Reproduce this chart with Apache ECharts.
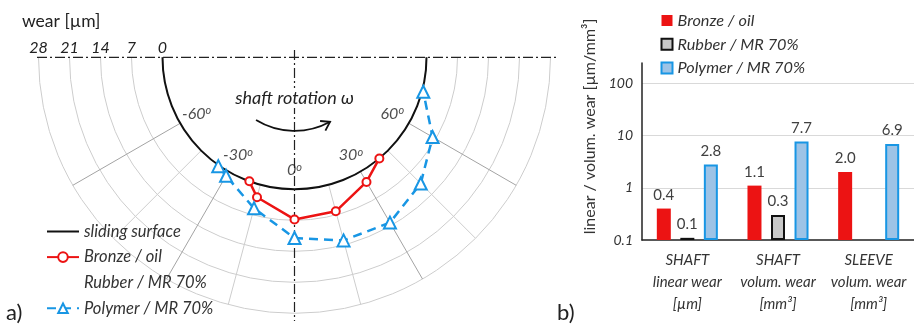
<!DOCTYPE html>
<html>
<head>
<meta charset="utf-8">
<script src="https://cdn.jsdelivr.net/npm/echarts@6/dist/echarts.min.js"></script>
<style>
  html, body { margin: 0; padding: 0; background: #fff; }
  #chart { width: 914px; height: 327px; }
</style>
</head>
<body>
<div id="chart"></div>
<script>
// a) wear profile round the shaft: angle in deg from bottom, wear in µm
const bronzeAngle  = [-20, -15, 0, 15, 30, 40];
const bronzeWear   = [0, 2.9, 6.8, 6.2, 2.7, 0];
const polymerAngle = [-35, -30, -15, 0, 15, 30, 45, 60, 75];
const polymerWear  = [0.2, 1.1, 5.5, 11, 13, 13.3, 10.5, 6.2, 0.3];
const angleTicks   = [-60, -30, 0, 30, 60];

// b) linear / volumetric wear
const categories  = ['SHAFT\nlinear wear\n[µm]', 'SHAFT\nvolum. wear\n[mm³]', 'SLEEVE\nvolum. wear\n[mm³]'];
const bronzeBars  = [0.4, 1.1, 2.0];
const rubberBars  = [0.11, 0.3, null];
const polymerBars = [2.8, 7.7, 6.9];

const names = ['sliding surface', 'Bronze / oil', 'Rubber / MR 70%', 'Polymer / MR 70%'];

const FONT = 'Lato, "Open Sans", sans-serif';
const RED = '#ec1313';
const BLUE = '#1896e4';
const CX = 294.5, CY = 57.3, R0 = 132, R1 = 256;

const D = '#a3a3a3', L = '#cdcdcd', T = 'transparent';
// one colour per radial line, -90 .. 90 every 15 deg
const radialColors = [T, T, D, L, D, L, T, L, D, L, D, T, T];

const chart = echarts.init(document.getElementById('chart'));

// arrow head for the rotation arc
const arrowR = 73.6;
const tipA = (90 - 28.9) * Math.PI / 180;
const tip = [CX + arrowR * Math.cos(tipA), CY + arrowR * Math.sin(tipA)];
const back = Math.atan2(Math.cos(tipA), -Math.sin(tipA));
const barb = a => [tip[0] + 10 * Math.cos(back + a), tip[1] + 10 * Math.sin(back + a)];

const dashDot = { stroke: '#222', lineWidth: 1.2, lineDash: [10, 3, 2, 3] };
const barLabel = { show: true, position: 'top', distance: 6, fontSize: 15, color: '#404040', formatter: p => p.value.toFixed(1) };

chart.setOption({
  animation: false,
  textStyle: { fontFamily: FONT },
  polar: [
    { center: [CX, CY], radius: [R0, R1] },
    { center: [CX, CY], radius: R0 }
  ],
  angleAxis: [
    {
      polarIndex: 0, type: 'value', min: -90, max: 90, interval: 15,
      startAngle: 180, endAngle: 360, clockwise: false,
      axisLine: { show: false }, axisTick: { show: false }, axisLabel: { show: false },
      splitLine: { show: true, lineStyle: { color: radialColors, width: 1 } }
    },
    {
      polarIndex: 1, type: 'value', min: -90, max: 90,
      startAngle: 180, endAngle: 360, clockwise: false,
      axisLine: { show: true, lineStyle: { color: '#111', width: 2 } },
      axisTick: { show: false }, axisLabel: { show: false }, splitLine: { show: false }
    }
  ],
  radiusAxis: [
    {
      polarIndex: 0, type: 'value', min: 0, max: 28, interval: 7,
      axisLine: { show: false }, axisTick: { show: false },
      axisLabel: { fontStyle: 'italic', fontSize: 16, color: '#222', margin: -9, verticalAlign: 'middle' },
      splitLine: { show: true, lineStyle: { color: '#cdcdcd', width: 1 } }
    },
    { polarIndex: 1, type: 'value', show: false }
  ],
  grid: { left: 642, top: 63, width: 278, bottom: 87 },
  xAxis: {
    type: 'category', data: categories,
    axisLine: { lineStyle: { color: '#222', width: 1.5 } },
    axisTick: { show: false },
    axisLabel: { interval: 0, fontStyle: 'italic', fontSize: 15, color: '#333', lineHeight: 22, margin: 9 }
  },
  yAxis: {
    type: 'log', logBase: 10, min: 0.1, max: 245, startValue: 0.1,
    name: 'linear / volum. wear [µm/mm³]', nameLocation: 'middle', nameGap: 44,
    nameTextStyle: { fontSize: 16, color: '#333', padding: [0, 0, 0, 50] },
    axisLine: { show: true, lineStyle: { color: '#222', width: 1.5 } },
    axisTick: { show: false },
    axisLabel: {
      fontStyle: 'italic', fontSize: 14, color: '#333', margin: 9, showMaxLabel: false,
      formatter: v => String(+(+v).toPrecision(2))
    },
    splitLine: { show: true, lineStyle: { color: [T, '#d9d9d9', '#d9d9d9', '#d9d9d9', T] } }
  },
  legend: [
    {
      orient: 'vertical', left: 41, top: 218,
      itemWidth: 32, itemHeight: 12, itemGap: 8.6,
      data: [
        { name: names[0], itemStyle: { opacity: 0 } },
        names[1],
        { name: names[2], itemStyle: { opacity: 0 }, lineStyle: { opacity: 0 } },
        names[3]
      ],
      textStyle: { fontStyle: 'italic', fontSize: 16.5, color: '#333' }
    },
    {
      orient: 'vertical', left: 655.5, top: 7.5,
      icon: 'rect', itemWidth: 11, itemHeight: 11, itemGap: 7.8,
      data: names.slice(1).map(n => n + ' '),
      textStyle: { fontStyle: 'italic', fontSize: 16.3, color: '#333' }
    }
  ],
  graphic: [
    { type: 'line', z: 1, shape: { x1: 37, y1: CY, x2: 557, y2: CY }, style: dashDot },
    { type: 'line', z: 1, shape: { x1: CX, y1: 50, x2: CX, y2: 321 }, style: dashDot },
    {
      type: 'arc', z: 3,
      shape: { cx: CX, cy: CY, r: arrowR, startAngle: tipA, endAngle: (90 + 31.5) * Math.PI / 180, clockwise: true },
      style: { stroke: '#111', lineWidth: 1.8, fill: null }
    },
    {
      type: 'polyline', z: 3,
      shape: { points: [barb(0.58), tip, barb(-0.58)] },
      style: { stroke: '#111', lineWidth: 1.8, fill: null }
    },
    {
      type: 'text', z: 3, x: CX, y: 98,
      style: {
        text: 'shaft rotation ω', fontFamily: FONT, fontSize: 18, fontStyle: 'italic',
        fill: '#222', align: 'center', verticalAlign: 'middle', backgroundColor: '#fff', padding: [1, 2]
      }
    },
    {
      type: 'text', z: 3, x: 22, y: 21,
      style: { text: 'wear [µm]', fontFamily: FONT, fontSize: 17.5, fill: '#222', align: 'left', verticalAlign: 'middle' }
    },
    {
      type: 'text', z: 3, x: 6, y: 313,
      style: { text: 'a)', fontFamily: FONT, fontSize: 22, fill: '#222', align: 'left', verticalAlign: 'middle' }
    },
    {
      type: 'text', z: 3, x: 557, y: 313,
      style: { text: 'b)', fontFamily: FONT, fontSize: 22, fill: '#222', align: 'left', verticalAlign: 'middle' }
    }
  ],
  series: [
    {
      name: names[0], type: 'line', coordinateSystem: 'polar', polarIndex: 0, data: [],
      symbol: 'none', itemStyle: { color: '#111' }, lineStyle: { color: '#111', width: 2 }
    },
    {
      name: names[1], type: 'line', coordinateSystem: 'polar', polarIndex: 0, clip: false, z: 4,
      data: bronzeWear.map((w, i) => [w, bronzeAngle[i]]),
      symbol: 'emptyCircle', symbolSize: 8,
      itemStyle: { color: RED, borderWidth: 2 }, lineStyle: { color: RED, width: 2.5 }
    },
    {
      name: names[2], type: 'line', coordinateSystem: 'polar', polarIndex: 0, data: [],
      symbol: 'none', lineStyle: { opacity: 0 }, itemStyle: { opacity: 0 }
    },
    {
      name: names[3], type: 'line', coordinateSystem: 'polar', polarIndex: 0, clip: false, z: 4,
      data: polymerWear.map((w, i) => [w, polymerAngle[i]]),
      symbol: 'emptyTriangle', symbolSize: 12,
      itemStyle: { color: BLUE, borderWidth: 2 }, lineStyle: { color: BLUE, width: 2.5, type: [9, 6] }
    },
    {
      name: 'angle labels', type: 'scatter', coordinateSystem: 'polar', polarIndex: 0, clip: false,
      data: angleTicks.map(a => [-4.3, a]),
      symbolSize: 1, itemStyle: { color: 'transparent' }, silent: true,
      label: {
        show: true, position: 'inside',
        formatter: p => '{t|' + p.value[1] + '}{s|o}',
        rich: {
          t: { fontFamily: FONT, fontSize: 16, fontStyle: 'italic', color: '#222' },
          s: { fontFamily: FONT, fontSize: 11, fontStyle: 'italic', color: '#222', verticalAlign: 'top', padding: [0, 0, 6, 0] }
        }
      }
    },
    {
      name: names[1] + ' ', type: 'bar', data: bronzeBars, barWidth: 14, barGap: '68%',
      itemStyle: { color: RED }, label: barLabel
    },
    {
      name: names[2] + ' ', type: 'bar', data: rubberBars, barWidth: 14, barGap: '68%',
      itemStyle: { color: '#c8c8c8', borderColor: '#111', borderWidth: 2 }, label: barLabel
    },
    {
      name: names[3] + ' ', type: 'bar', data: polymerBars, barWidth: 14, barGap: '68%',
      itemStyle: { color: '#9dc3e6', borderColor: BLUE, borderWidth: 2 }, label: barLabel
    }
  ]
});
</script>
</body>
</html>
